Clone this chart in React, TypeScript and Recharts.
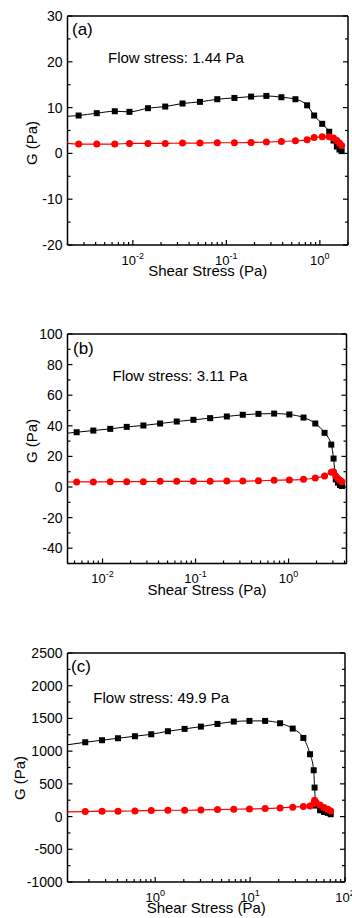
import { LineChart, Line, XAxis, YAxis } from 'recharts'

const FONT = '"Liberation Sans", Arial, Helvetica, sans-serif'
const INK = '#000'
const RED = '#ff0000'

// (a)
const stressA = [0.00185, 0.00263, 0.00411, 0.00641, 0.0092, 0.0145, 0.0222, 0.034, 0.0522, 0.08, 0.122, 0.184, 0.268, 0.388, 0.548, 0.731, 0.869, 1.06, 1.26, 1.4, 1.52, 1.62, 1.71]
const storageA = [8.05, 8.27, 8.78, 9.2, 9.07, 9.87, 10.23, 10.9, 11.25, 11.83, 12.12, 12.4, 12.55, 12.26, 11.83, 10.5, 8.27, 6.46, 4.72, 2.8, 1.5, 0.85, 0.5]
const lossA = [2.22, 2.03, 2.03, 2.03, 2.18, 2.18, 2.18, 2.25, 2.25, 2.32, 2.32, 2.4, 2.47, 2.6, 2.76, 2.97, 3.48, 3.63, 3.63, 3.35, 2.8, 2.25, 1.7]
const yLabelsA = [-20, -10, 0, 10, 20, 30]

// (b)
const stressB = [0.00349, 0.00527, 0.00796, 0.0121, 0.0182, 0.0275, 0.0416, 0.0628, 0.0949, 0.1435, 0.217, 0.322, 0.475, 0.7, 1.02, 1.45, 1.94, 2.44, 2.88, 3.05, 3.22, 3.4, 3.58, 3.75]
const storageB = [34.7, 35.8, 36.9, 38.0, 39.3, 40.2, 41.5, 42.8, 43.9, 45.0, 46.1, 47.2, 47.8, 48.0, 47.4, 45.4, 41.5, 35.4, 27.7, 18.6, 5.0, 2.8, 1.3, 0.65]
const lossB = [3.2, 3.3, 3.3, 3.5, 3.5, 3.5, 3.7, 3.7, 3.7, 3.7, 3.9, 3.9, 4.1, 4.4, 4.6, 5.0, 5.9, 7.2, 9.6, 10.0, 7.2, 5.5, 4.4, 3.5]
const yLabelsB = [-40, -20, 0, 20, 40, 60, 80, 100]

// (c)
const stressC = [0.11, 0.183, 0.275, 0.405, 0.611, 0.908, 1.36, 2.04, 3.03, 4.53, 6.73, 9.84, 14.4, 20.7, 28.1, 36.4, 42.8, 46.8, 47.8, 49.5, 54.6, 60, 66, 70.7]
const storageC = [1090, 1136, 1167, 1197, 1228, 1258, 1304, 1340, 1375, 1416, 1452, 1462, 1462, 1426, 1345, 1202, 953, 708, 443, 168, 97, 70, 56, 36]
const lossC = [70, 76, 82, 82, 87, 92, 97, 97, 102, 107, 112, 117, 122, 132, 143, 155, 163, 200, 250, 215, 175, 140, 112, 85]
const yLabelsC = [-1000, -500, 0, 500, 1000, 1500, 2000, 2500]

const tags = ['(a)', '(b)', '(c)']
const notes = ['Flow stress: 1.44 Pa', 'Flow stress: 3.11 Pa', 'Flow stress: 49.9 Pa']
const yTitle = 'G (Pa)'
const xTitle = 'Shear Stress (Pa)'

function logTicks(lo: number, hi: number) {
  const out: number[] = []
  for (let k = Math.floor(Math.log10(lo)); k <= Math.ceil(Math.log10(hi)); k++) {
    for (let m = 1; m < 10; m++) {
      const v = m * Math.pow(10, k)
      if (v >= lo * 0.9999 && v <= hi * 1.0001) out.push(v)
    }
  }
  return out
}

function linTicks(lo: number, hi: number, step: number) {
  const out: number[] = []
  for (let v = lo; v <= hi + 1e-9; v += step) out.push(v)
  return out
}

const isDecade = (v: number) => Math.abs(Math.log10(v) - Math.round(Math.log10(v))) < 1e-6

function BottomTick(p: any) {
  const v = p.payload.value
  const major = isDecade(v)
  return (
    <g>
      <line x1={p.x} x2={p.x} y1={p.y} y2={p.y - (major ? 5 : 3)} stroke={INK} strokeWidth={1.2} />
      {major && (
        <text x={p.x} y={p.y + 19.5} textAnchor="middle" fontSize={13} fontFamily={FONT} fill={INK}>
          10<tspan dy={-6} fontSize={9}>{Math.round(Math.log10(v))}</tspan>
        </text>
      )}
    </g>
  )
}

function TopTick(p: any) {
  const major = isDecade(p.payload.value)
  return <line x1={p.x} x2={p.x} y1={p.y} y2={p.y + (major ? 5 : 3)} stroke={INK} strokeWidth={1.2} />
}

const makeLeftTick = (labels: number[]) => (p: any) => {
  const v = p.payload.value
  const major = labels.includes(v)
  return (
    <g>
      <line x1={p.x} x2={p.x + (major ? 5 : 3)} y1={p.y} y2={p.y} stroke={INK} strokeWidth={1.2} />
      {major && (
        <text x={p.x - 5} y={p.y} dy="0.36em" textAnchor="end" fontSize={14} fontFamily={FONT} fill={INK}>
          {v}
        </text>
      )}
    </g>
  )
}

const makeRightTick = (labels: number[]) => (p: any) => {
  const major = labels.includes(p.payload.value)
  return <line x1={p.x} x2={p.x - (major ? 5 : 3)} y1={p.y} y2={p.y} stroke={INK} strokeWidth={1.2} />
}

const Square = (p: any) => (
  <rect key={p.key ?? p.index} x={p.cx - 3} y={p.cy - 3} width={6} height={6} fill={INK} />
)
const Circle = (p: any) => <circle key={p.key ?? p.index} cx={p.cx} cy={p.cy} r={3.5} fill={RED} />

type Box = { left: number; right: number; top: number; bottom: number }

interface PanelProps {
  top: number
  height: number
  plot: Box
  stress: number[]
  storage: number[]
  loss: number[]
  xDomain: [number, number]
  yDomain: [number, number]
  yStep: number
  yLabels: number[]
  tag: string
  tagAt: [number, number]
  note: string
  noteAt: [number, number]
  gAt: [number, number]
}

function Panel(props: PanelProps) {
  const { top, height, plot, stress, storage, loss, xDomain, yDomain, yStep, yLabels } = props
  const data = stress.map((x, i) => ({ x, gp: storage[i], gpp: loss[i] }))
  const xTicks = logTicks(xDomain[0], xDomain[1])
  const yTicks = linTicks(yDomain[0], yDomain[1], yStep)
  const frame = { stroke: INK, strokeWidth: 1.5 }
  const cx = (plot.left + plot.right) / 2

  return (
    <div style={{ position: 'absolute', left: 0, top, width: 352, height }}>
      <LineChart
        width={352}
        height={height}
        data={data}
        margin={{ top: plot.top, right: 352 - plot.right, left: 0, bottom: 0 }}
      >
        <XAxis
          xAxisId="b"
          dataKey="x"
          type="number"
          scale="log"
          domain={xDomain}
          allowDataOverflow
          ticks={xTicks}
          interval={0}
          height={height - plot.bottom}
          tickSize={0}
          tickMargin={0}
          tickLine={false}
          axisLine={frame}
          tick={BottomTick}
        />
        <XAxis
          xAxisId="t"
          orientation="top"
          mirror
          type="number"
          scale="log"
          domain={xDomain}
          allowDataOverflow
          ticks={xTicks}
          interval={0}
          tickSize={0}
          tickMargin={0}
          tickLine={false}
          axisLine={frame}
          tick={TopTick}
        />
        <YAxis
          yAxisId="l"
          type="number"
          domain={yDomain}
          allowDataOverflow
          ticks={yTicks}
          interval={0}
          width={plot.left}
          tickSize={0}
          tickMargin={0}
          tickLine={false}
          axisLine={frame}
          tick={makeLeftTick(yLabels)}
        />
        <YAxis
          yAxisId="r"
          orientation="right"
          mirror
          type="number"
          domain={yDomain}
          allowDataOverflow
          ticks={yTicks}
          interval={0}
          tickSize={0}
          tickMargin={0}
          tickLine={false}
          axisLine={frame}
          tick={makeRightTick(yLabels)}
        />
        <Line
          xAxisId="b"
          yAxisId="l"
          type="monotone"
          dataKey="gp"
          stroke={INK}
          strokeWidth={1}
          dot={Square}
          activeDot={false}
          isAnimationActive={false}
        />
        <Line
          xAxisId="b"
          yAxisId="l"
          type="monotone"
          dataKey="gpp"
          stroke={RED}
          strokeWidth={1.2}
          dot={Circle}
          activeDot={false}
          isAnimationActive={false}
        />
      </LineChart>
      <svg
        width={352}
        height={height}
        style={{ position: 'absolute', left: 0, top: 0, pointerEvents: 'none' }}
        fontFamily={FONT}
        fill={INK}
      >
        <text x={props.tagAt[0]} y={props.tagAt[1]} fontSize={17}>{props.tag}</text>
        <text x={props.noteAt[0]} y={props.noteAt[1]} fontSize={15}>{props.note}</text>
        <text
          x={props.gAt[0]}
          y={props.gAt[1]}
          fontSize={15}
          textAnchor="middle"
          transform={`rotate(-90 ${props.gAt[0]} ${props.gAt[1]})`}
        >
          {yTitle}
        </text>
        <text x={cx} y={plot.bottom + 31} fontSize={15} textAnchor="middle">{xTitle}</text>
      </svg>
    </div>
  )
}

export default function App() {
  return (
    <div style={{ position: 'absolute', left: 0, top: 0, width: 352, height: 918, background: '#fff' }}>
      <Panel
        top={0}
        height={300}
        plot={{ left: 67.5, right: 348, top: 16, bottom: 245 }}
        stress={stressA}
        storage={storageA}
        loss={lossA}
        xDomain={[0.002, 2]}
        yDomain={[-20, 30]}
        yStep={5}
        yLabels={yLabelsA}
        tag={tags[0]}
        tagAt={[72, 35]}
        note={notes[0]}
        noteAt={[108, 63]}
        gAt={[37, 143]}
      />
      <Panel
        top={300}
        height={310}
        plot={{ left: 67.5, right: 346.5, top: 34, bottom: 263.5 }}
        stress={stressB}
        storage={storageB}
        loss={lossB}
        xDomain={[0.0042, 4.2]}
        yDomain={[-50, 100]}
        yStep={10}
        yLabels={yLabelsB}
        tag={tags[1]}
        tagAt={[73, 54]}
        note={notes[1]}
        noteAt={[112.5, 81]}
        gAt={[37, 141]}
      />
      <Panel
        top={610}
        height={308}
        plot={{ left: 67.5, right: 345, top: 43, bottom: 272 }}
        stress={stressC}
        storage={storageC}
        loss={lossC}
        xDomain={[0.119, 100]}
        yDomain={[-1000, 2500]}
        yStep={250}
        yLabels={yLabelsC}
        tag={tags[2]}
        tagAt={[71, 62]}
        note={notes[2]}
        noteAt={[93.3, 93]}
        gAt={[25, 168]}
      />
    </div>
  )
}
